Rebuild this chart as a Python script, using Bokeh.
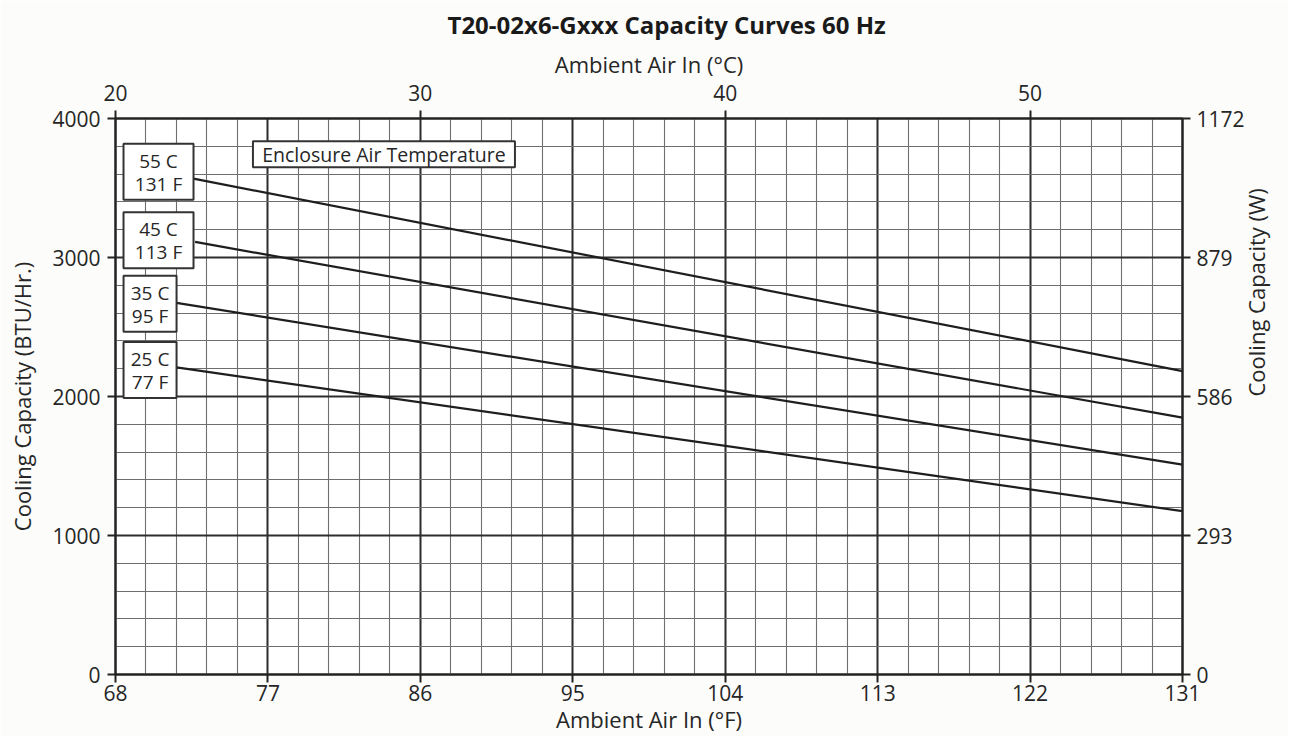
import math
import numpy as np
from bokeh.plotting import figure
from bokeh.models import Range1d, LinearAxis, FixedTicker, ColumnDataSource
from bokeh.core.properties import value
from bokeh.embed import file_html
from bokeh.resources import INLINE

# ---- data ----
series_line1 = ["55 C", "45 C", "35 C", "25 C"]
series_line2 = ["131 F", "113 F", "95 F", "77 F"]
x_start = [72.6, 72.7, 71.6, 71.6]          # °F where each curve starts
y_start = [3567, 3112, 2673, 2209]          # BTU/Hr at start
x_end = [131, 131, 131, 131]                # °F where each curve ends
y_end = [2183, 1848, 1510, 1175]            # BTU/Hr at end

f_ticks = [68, 77, 86, 95, 104, 113, 122, 131]
c_ticks = [20, 30, 40, 50]
btu_ticks = [0, 1000, 2000, 3000, 4000]
w_ticks = [0, 293, 586, 879, 1172]

FONT = "Open Sans"
TXT = "#262626"

p = figure(width=1288, height=736, x_range=Range1d(68, 131), y_range=Range1d(0, 4000),
           output_backend="svg", toolbar_location=None,
           min_border_left=115, min_border_right=106, min_border_top=118, min_border_bottom=62,
           title="T20-02x6-Gxxx Capacity Curves 60 Hz")
p.background_fill_color = "#ffffff"
p.border_fill_color = "#fcfcfa"
p.outline_line_color = "#222222"
p.outline_line_width = 2

p.title.text_font = FONT
p.title.text_font_size = "24px"
p.title.text_font_style = "bold"
p.title.text_color = "#1a1a1a"
p.title.align = "left"
p.title.offset = 332
p.title.standoff = 10

minor_f = [float(v) for v in np.arange(68, 131.01, 1.8)]
minor_b = [float(v) for v in np.arange(0, 4001, 200)]

def style_axis(ax, label):
    ax.axis_label = label
    ax.axis_label_text_font = FONT
    ax.axis_label_text_font_size = "22px"
    ax.axis_label_text_font_style = "normal"
    ax.axis_label_text_color = TXT
    ax.major_label_text_font = FONT
    ax.major_label_text_font_size = "21px"
    ax.major_label_text_color = TXT
    ax.axis_line_color = "#222222"
    ax.axis_line_width = 2
    ax.major_tick_line_color = "#222222"
    ax.major_tick_line_width = 2
    ax.major_tick_in = 0
    ax.major_tick_out = 8
    ax.minor_tick_line_color = None

xa = p.xaxis[0]
xa.ticker = FixedTicker(ticks=f_ticks, minor_ticks=minor_f)
style_axis(xa, "Ambient Air In (°F)")
xa.major_label_standoff = 2
xa.axis_label_standoff = 0

ya = p.yaxis[0]
ya.ticker = FixedTicker(ticks=btu_ticks, minor_ticks=minor_b)
style_axis(ya, "Cooling Capacity (BTU/Hr.)")
ya.major_label_standoff = 7
ya.axis_label_standoff = 12

p.extra_x_ranges = {"c": Range1d(20, 55)}
top = LinearAxis(x_range_name="c", ticker=FixedTicker(ticks=c_ticks))
style_axis(top, "Ambient Air In (°C)")
top.major_label_standoff = 10
top.axis_label_standoff = 3
p.add_layout(top, "above")

p.extra_y_ranges = {"w": Range1d(0, 1172)}
right = LinearAxis(y_range_name="w", ticker=FixedTicker(ticks=w_ticks))
style_axis(right, "Cooling Capacity (W)")
right.major_label_standoff = 6
right.axis_label_standoff = 8
try:
    right.axis_label_orientation = math.pi / 2
except Exception:
    pass
p.add_layout(right, "right")

for g in (p.xgrid[0], p.ygrid[0]):
    g.grid_line_color = "#2e2e2e"
    g.grid_line_width = 2
    g.grid_line_alpha = 1.0
    g.minor_grid_line_color = "#6e6e6e"
    g.minor_grid_line_width = 1.1
    g.minor_grid_line_alpha = 1.0

src = ColumnDataSource(dict(x0=x_start, y0=y_start, x1=x_end, y1=y_end))
p.segment(x0="x0", y0="y0", x1="x1", y1="y1", source=src, line_color="#1e1e1e", line_width=2.2)

# ---- label boxes (layout only) ----
box_src = ColumnDataSource(dict(
    x=[70.54, 70.54, 70.04, 70.04],
    y=[3617, 3125, 2668, 2190],
    w=[70, 70, 53, 53],
    h=[56, 56, 56, 56],
    t1=series_line1,
    t2=series_line2,
))
p.rect(x="x", y="y", width="w", height="h", width_units="screen", height_units="screen",
       source=box_src, fill_color="#ffffff", line_color="#333333", line_width=2)
p.text(x="x", y="y", text="t1", y_offset=-11, source=box_src, text_align="center",
       text_baseline="middle", text_font=value(FONT), text_font_size="19px", text_color=TXT)
p.text(x="x", y="y", text="t2", y_offset=12, source=box_src, text_align="center",
       text_baseline="middle", text_font=value(FONT), text_font_size="19px", text_color=TXT)

enc_src = ColumnDataSource(dict(x=[83.85], y=[3742], t=["Enclosure Air Temperature"]))
p.rect(x="x", y="y", width=262, height=26, width_units="screen", height_units="screen",
       source=enc_src, fill_color="#ffffff", line_color="#333333", line_width=2)
p.text(x="x", y="y", text="t", source=enc_src, text_align="center", text_baseline="middle",
       text_font=value(FONT), text_font_size="19.5px", text_color=TXT)

open("out.html", "w").write(file_html(p, INLINE))
